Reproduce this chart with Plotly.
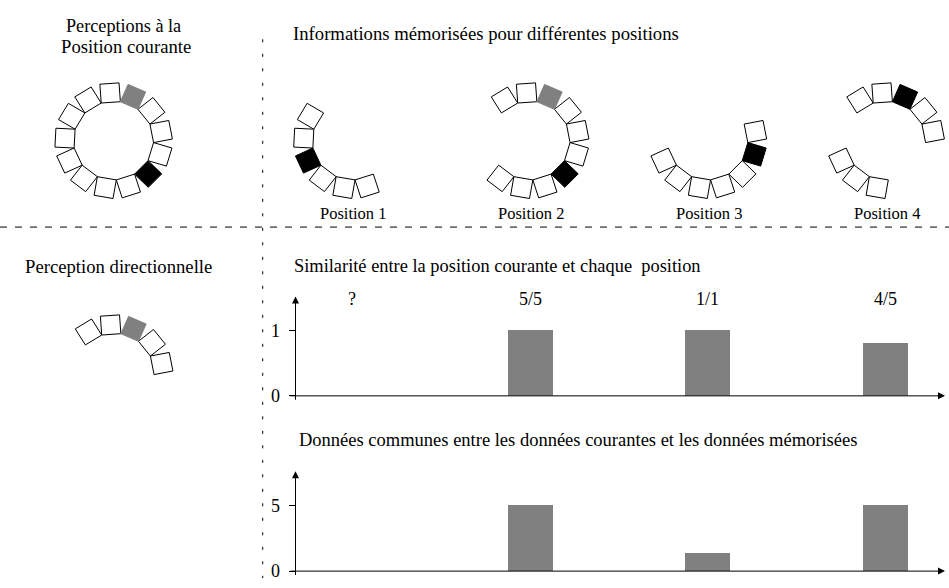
import math
import plotly.graph_objects as go

# ---------------- data ----------------
position_names = ["Position 1", "Position 2", "Position 3", "Position 4"]
position_index = [1, 2, 3, 4]
similarity = [None, 1.0, 1.0, 0.8]
similarity_labels = ["?", "5/5", "1/1", "4/5"]
common_counts = [None, 5, 1.4, 5]
similarity_ticks = [0, 1]
common_ticks = [0, 5]

# 13 sensors around the robot; which ones are perceived and which are highlighted
current_slots = list(range(13))
current_gray = [1]
current_black = [5]
memorised_slots = [[6, 7, 8, 9, 10, 11],
                   [0, 1, 2, 3, 4, 5, 6, 7, 8, 12],
                   [3, 4, 5, 6, 7, 8, 9],
                   [7, 8, 9, 12, 0, 1, 2, 3]]
memorised_gray = [[], [1], [], []]
memorised_black = [[9], [5], [4], [1]]
directional_slots = [12, 0, 1, 2, 3]
directional_gray = [1]
directional_black = []

# ---------------- layout constants ----------------
W, H = 949, 588
FONT = "Liberation Serif"
GREY = "#808080"
N_SLOTS = 13
SIDE = 19.2
APOTHEM = SIDE / (2 * math.tan(math.pi / N_SLOTS))
ANGLE0 = -4.0

X2_LEFT_PX, X2_RIGHT_PX = 295.5, 945.0
CAT_FIRST_PX, CAT_STEP_PX = 352.25, 177.75
X_RANGE = [1 + (X2_LEFT_PX - CAT_FIRST_PX) / CAT_STEP_PX,
           1 + (X2_RIGHT_PX - CAT_FIRST_PX) / CAT_STEP_PX]
BAR_WIDTH = 45 / CAT_STEP_PX

# chart 1 (similarity) pixel geometry
C1_ZERO, C1_TOP, C1_UNIT = 402.7, 301.7, 66.7
# chart 2 (common data) pixel geometry
C2_ZERO, C2_TOP, C2_UNIT = 581.0, 479.3, 13.4


def cat_px(c):
    return CAT_FIRST_PX + (c - 1) * CAT_STEP_PX


def square(cx, cy, k):
    th = math.radians(ANGLE0 + k * 360.0 / N_SLOTS)
    ux, uy = math.sin(th), -math.cos(th)
    tx, ty = math.cos(th), math.sin(th)
    pts = []
    for r, sgn in [(APOTHEM, -1), (APOTHEM, 1), (APOTHEM + SIDE, 1), (APOTHEM + SIDE, -1), (APOTHEM, -1)]:
        pts.append((cx + r * ux + sgn * SIDE / 2 * tx, cy + r * uy + sgn * SIDE / 2 * ty))
    return pts


groups = {"white": ([], []), "gray": ([], []), "black": ([], [])}


def add_ring(cx, cy, slots, gray, black):
    for k in slots:
        key = "gray" if k in gray else ("black" if k in black else "white")
        xs, ys = groups[key]
        for (px, py) in square(cx, cy, k):
            xs.append(px)
            ys.append(py)
        xs.append(None)
        ys.append(None)


add_ring(113.5, 143.0, current_slots, current_gray, current_black)
for i, slots in enumerate(memorised_slots):
    add_ring(cat_px(position_index[i]), 143.0, slots, memorised_gray[i], memorised_black[i])
add_ring(114.0, 379.0, directional_slots, directional_gray, directional_black)

fig = go.Figure()
styles = {"white": ("white", "black"), "gray": (GREY, GREY), "black": ("black", "black")}
for key, (xs, ys) in groups.items():
    fc, lc = styles[key]
    fig.add_trace(go.Scatter(x=xs, y=ys, mode="lines", fill="toself", fillcolor=fc,
                             line=dict(color=lc, width=1), hoverinfo="skip",
                             showlegend=False, xaxis="x", yaxis="y"))

# bar charts
fig.add_trace(go.Bar(x=position_index, y=similarity, width=BAR_WIDTH, marker=dict(color=GREY, line=dict(width=0)),
                     showlegend=False, xaxis="x2", yaxis="y2"))
fig.add_trace(go.Bar(x=position_index, y=common_counts, width=BAR_WIDTH, marker=dict(color=GREY, line=dict(width=0)),
                     showlegend=False, xaxis="x3", yaxis="y3"))

annotations = []


def text(x, y, s, anchor="center", size=18.7, xref="x", yref="y"):
    annotations.append(dict(x=x, y=y, xref=xref, yref=yref, text=s, showarrow=False,
                            xanchor=anchor, yanchor="middle",
                            font=dict(family=FONT, size=size, color="black")))


def arrow(x0, y0, x1, y1):
    annotations.append(dict(x=x1, y=y1, ax=x0, ay=y0, xref="x", yref="y", axref="x", ayref="y",
                            text="", showarrow=True, arrowhead=2, arrowsize=1.4, arrowwidth=1,
                            arrowcolor="black", standoff=0, startstandoff=0))


text(123.5, 26, "Perceptions à la", size=18.2)
text(125.5, 47.5, "Position courante")
text(291, 34, "Informations mémorisées pour différentes positions", anchor="left")
for i, name in enumerate(position_names):
    text(cat_px(position_index[i]) + 1.0, 217.5, name, size=16.5)
text(118, 271, "Perception directionnelle")
text(292, 271, "Similarité entre la position courante et chaque&nbsp; position", anchor="left", size=18.4)
text(297, 448, "Données communes entre les données courantes et les données mémorisées", anchor="left", size=18.5)
for i, lab in enumerate(similarity_labels):
    text(position_index[i], 1.47, lab, xref="x2", yref="y2", size=18)

# axis arrows
arrow(X2_LEFT_PX, C1_ZERO + 5.5, X2_LEFT_PX, C1_TOP)
arrow(X2_LEFT_PX - 6.5, C1_ZERO, X2_RIGHT_PX, C1_ZERO)
arrow(X2_LEFT_PX, C2_ZERO + 5.5, X2_LEFT_PX, C2_TOP)
arrow(X2_LEFT_PX - 6.5, C2_ZERO, X2_RIGHT_PX, C2_ZERO)

shapes = [
    dict(type="line", xref="x", yref="y", x0=262.7, x1=262.7, y0=40, y1=H,
         line=dict(color="black", width=1, dash="3px,11.5px")),
    dict(type="line", xref="x", yref="y", x0=0, x1=W, y0=231, y1=231,
         line=dict(color="black", width=1, dash="7px,8px")),
]

xdom = [X2_LEFT_PX / W, X2_RIGHT_PX / W]
yaxis_common = dict(showgrid=False, zeroline=False, showline=False, ticks="outside", ticklen=6,
                    tickwidth=1, tickcolor="black", tickfont=dict(family=FONT, size=18, color="black"),
                    ticklabelstandoff=5, fixedrange=True)
fig.update_layout(
    width=W, height=H, margin=dict(l=0, r=0, t=0, b=0), autosize=False,
    paper_bgcolor="white", plot_bgcolor="rgba(0,0,0,0)",
    xaxis=dict(range=[0, W], domain=[0, 1], visible=False, fixedrange=True),
    yaxis=dict(range=[H, 0], domain=[0, 1], visible=False, fixedrange=True),
    xaxis2=dict(range=X_RANGE, domain=xdom, visible=False, anchor="y2", fixedrange=True),
    yaxis2=dict(range=[0, (C1_ZERO - C1_TOP) / C1_UNIT], domain=[1 - C1_ZERO / H, 1 - C1_TOP / H],
                anchor="x2", tickvals=similarity_ticks, **yaxis_common),
    xaxis3=dict(range=X_RANGE, domain=xdom, visible=False, anchor="y3", fixedrange=True),
    yaxis3=dict(range=[0, (C2_ZERO - C2_TOP) / C2_UNIT], domain=[1 - C2_ZERO / H, 1 - C2_TOP / H],
                anchor="x3", tickvals=common_ticks, **yaxis_common),
    annotations=annotations, shapes=shapes, showlegend=False, bargap=0,
)

post = """
var de = document.documentElement, bd = document.body;
[de, bd].forEach(function(el){ el.style.margin='0'; el.style.padding='0'; el.style.overflow='hidden'; });
var gd = document.getElementById('{plot_id}');
gd.style.position='fixed'; gd.style.left='0px'; gd.style.top='0px';
"""

fig.write_html("out.html", config={"displayModeBar": False, "staticPlot": True}, post_script=post)
